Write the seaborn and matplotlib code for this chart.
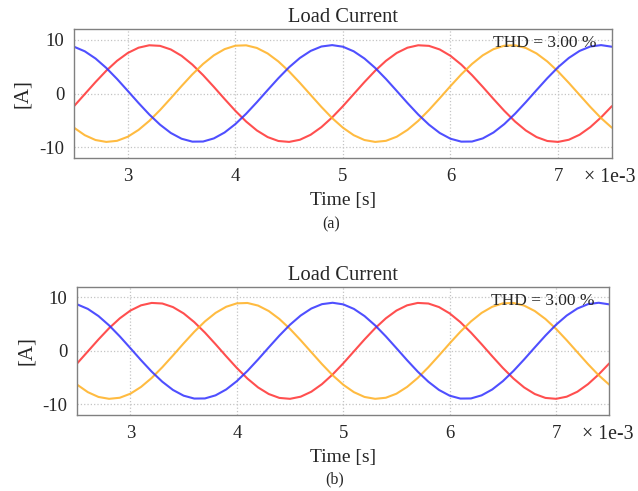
import numpy as np
import pandas as pd
import matplotlib
matplotlib.use("Agg")
import matplotlib.pyplot as plt
import seaborn as sns

# time axis in ms (labelled "x 1e-3" s on the chart)
time_ms = [2.5, 2.6, 2.7, 2.8, 2.9, 3.0, 3.1, 3.2, 3.3, 3.4,
           3.5, 3.6, 3.7, 3.8, 3.9, 4.0, 4.1, 4.2, 4.3, 4.4,
           4.5, 4.6, 4.7, 4.8, 4.9, 5.0, 5.1, 5.2, 5.3, 5.4,
           5.5, 5.6, 5.7, 5.8, 5.9, 6.0, 6.1, 6.2, 6.3, 6.4,
           6.5, 6.6, 6.7, 6.8, 6.9, 7.0, 7.1, 7.2, 7.3, 7.4, 7.5]

# phase currents [A]
phase_a = [-2.35, -0.11, 2.13, 4.24, 6.08, 7.54, 8.52, 8.97, 8.86, 8.19,
           7.01, 5.38, 3.42, 1.24, -1.02, -3.21, -5.20, -6.86, -8.09, -8.82,
           -8.99, -8.59, -7.66, -6.24, -4.43,
           -2.35, -0.11, 2.13, 4.24, 6.08, 7.54, 8.52, 8.97, 8.86, 8.19,
           7.01, 5.38, 3.42, 1.24, -1.02, -3.21, -5.20, -6.86, -8.09, -8.82,
           -8.99, -8.59, -7.66, -6.24, -4.43, -2.35]
phase_b = [-6.35, -7.74, -8.64, -8.99, -8.79, -8.03, -6.76, -5.08, -3.07, -0.87,
           1.39, 3.56, 5.50, 7.10, 8.25, 8.89, 8.96, 8.47, 7.45, 5.96,
           4.10, 1.98, -0.26, -2.49, -4.57,
           -6.35, -7.74, -8.64, -8.99, -8.79, -8.03, -6.76, -5.08, -3.07, -0.87,
           1.39, 3.56, 5.50, 7.10, 8.25, 8.89, 8.96, 8.47, 7.45, 5.96,
           4.10, 1.98, -0.26, -2.49, -4.57, -6.35]
phase_c = [8.70, 7.85, 6.51, 4.76, 2.71, 0.49, -1.76, -3.90, -5.79, -7.33,
           -8.40, -8.94, -8.92, -8.34, -7.24, -5.68, -3.76, -1.61, 0.64, 2.85,
           4.89, 6.61, 7.92, 8.74, 9.00,
           8.70, 7.85, 6.51, 4.76, 2.71, 0.49, -1.76, -3.90, -5.79, -7.33,
           -8.40, -8.94, -8.92, -8.34, -7.24, -5.68, -3.76, -1.61, 0.64, 2.85,
           4.89, 6.61, 7.92, 8.74, 9.00, 8.70]

phase_colors = ["#ff3030", "#ffb020", "#3030ff"]
x_ticks = [3, 4, 5, 6, 7]
y_ticks = [-10, 0, 10]
thd_text = "THD = 3.00 %"
panel_labels = ["(a)", "(b)"]

sns.set_style("white")
plt.rcParams['font.family'] = ['Liberation Serif', 'DejaVu Serif']
plt.rcParams['axes.unicode_minus'] = False

df = pd.DataFrame({"t": time_ms, "a": phase_a, "b": phase_b, "c": phase_c})

fig = plt.figure(figsize=(6.38, 4.91), dpi=100)
axes = [fig.add_axes([0.116, 0.678, 0.843, 0.263]),
        fig.add_axes([0.121, 0.155, 0.834, 0.261])]
label_pos = [(0.519, 0.544), (0.524, 0.024)]

for ax, lab, (lx, ly) in zip(axes, panel_labels, label_pos):
    for col, c in zip(["a", "b", "c"], phase_colors):
        sns.lineplot(data=df, x="t", y=col, ax=ax, color=c, lw=1.5, alpha=0.85)
    ax.set_xlim(2.5, 7.5)
    ax.set_ylim(-12, 12)
    ax.set_xticks(x_ticks)
    ax.set_yticks(y_ticks)
    ax.grid(True, ls=":", color="#c4c4c4", lw=0.9)
    for s in ax.spines.values():
        s.set_color("#808080")
        s.set_linewidth(1.0)
    ax.tick_params(direction="out", length=4.5, width=0.9, color="#808080",
                   labelsize=13.5, pad=2.5)
    ax.set_title("Load Current", fontsize=14.8, pad=5)
    ax.set_xlabel("Time [s]", fontsize=14, labelpad=5.5)
    ax.set_ylabel("[A]", fontsize=15, labelpad=5)
    ax.text(0.972, 0.89, thd_text, transform=ax.transAxes, ha="right",
            va="center", fontsize=12.5, zorder=5)
    ax.text(0.948, -0.153, "\u00d7 1e-3", transform=ax.transAxes, ha="left",
            va="center", fontsize=14.3)
    fig.text(lx, ly, lab, ha="center", va="center", fontsize=11.5)

fig.savefig("out.png", dpi=100)
